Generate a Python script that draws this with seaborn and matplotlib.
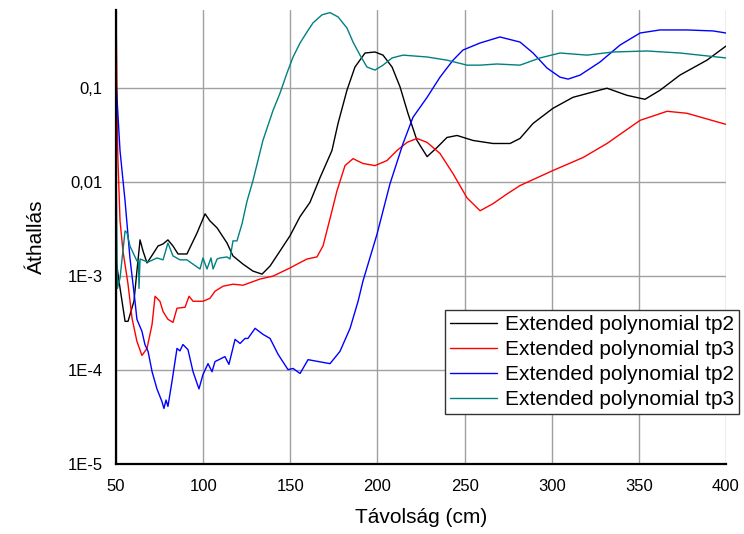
import matplotlib
matplotlib.use("Agg")
import matplotlib.pyplot as plt
import matplotlib.ticker as mticker
import seaborn as sns
import numpy as np

# ---- data ----
black_x = [50, 51.9, 55.2, 56.9, 60.3, 62.0, 63.8, 65.5, 67.8, 71.2, 74.1, 77, 79.8, 82.7, 85.6, 90.7,
           96.5, 101.1, 103.9, 108, 113.7, 117.1, 122.9, 128.6, 133.8, 138.4, 144.1, 149.8, 155.6,
           161.3, 167.1, 173.9, 177.4, 182.5, 187.1, 192.9, 198.6, 203.2, 208.4, 213.0, 217.5,
           222.7, 228.5, 234.2, 239.9, 245.7, 254.8, 266.3, 276.1, 281.8, 289.3, 300.7, 312.2,
           331.7, 343.2, 353.5, 362.1, 373.6, 389.1, 400]
black_y = [1.5e-3, 8.4e-4, 3.3e-4, 3.3e-4, 5.4e-4, 1.13e-3, 2.43e-3, 1.85e-3, 1.38e-3, 1.72e-3, 2.09e-3,
           2.2e-3, 2.43e-3, 2.09e-3, 1.72e-3, 1.72e-3, 2.88e-3, 4.6e-3, 3.87e-3, 3.26e-3, 2.25e-3,
           1.64e-3, 1.34e-3, 1.13e-3, 1.05e-3, 1.28e-3, 1.85e-3, 2.68e-3, 4.3e-3, 6.1e-3, 0.0112,
           0.0217, 0.0422, 0.095, 0.168, 0.237, 0.243, 0.225, 0.168, 0.103, 0.0541, 0.0278, 0.0187,
           0.0234, 0.0299, 0.0314, 0.0278, 0.0258, 0.0258, 0.0292, 0.0422, 0.0611, 0.080, 0.100,
           0.084, 0.0762, 0.095, 0.138, 0.199, 0.281]

red_x = [50, 51.0, 52.3, 54.0, 56.9, 59.2, 62.0, 64.9, 67.8, 70.7, 72.4, 75.2, 77, 79.8, 82.7, 85,
         89.6, 91.9, 94.2, 96.5, 99.9, 103.9, 106.8, 111.4, 117.1, 122.9, 132.6, 140.1, 149.8,
         153.9, 159.6, 165.3, 168.8, 172.8, 176.8, 181.4, 186.0, 191.7, 198.6, 205.5, 211.2, 217.0,
         222.7, 228.5, 235.9, 243.4, 251.4, 258.9, 266.3, 274.4, 281.8, 300.7, 318.0, 331.7,
         350.7, 366.2, 377.6, 400]
red_y = [0.68, 0.02, 3.9e-3, 1.85e-3, 8.2e-4, 3.56e-4, 2.02e-4, 1.43e-4, 1.7e-4, 3.07e-4, 6.1e-4,
         5.4e-4, 4.2e-4, 3.47e-4, 3.22e-4, 4.55e-4, 4.66e-4, 6.1e-4, 5.4e-4, 5.4e-4, 5.4e-4, 5.8e-4,
         6.9e-4, 7.8e-4, 8.2e-4, 8.0e-4, 9.3e-4, 1.0e-3, 1.22e-3, 1.34e-3, 1.52e-3, 1.6e-3, 2.1e-3,
         4.1e-3, 8.1e-3, 0.015, 0.0178, 0.0158, 0.0150, 0.0170, 0.0217, 0.0265, 0.0292, 0.0265,
         0.0202, 0.0123, 6.8e-3, 4.96e-3, 5.9e-3, 7.5e-3, 9.2e-3, 0.0133, 0.0183, 0.0258, 0.0455,
         0.0568, 0.0541, 0.0412]

blue_x = [50, 52.3, 55.2, 58, 60.9, 62, 64.9, 66.6, 68.4, 70.7, 73.5, 76.4, 77.5, 78.7, 79.8, 82.1,
          85, 86.7, 88.4, 91.3, 94.2, 97.6, 99.9, 102.8, 105.1, 106.8, 112.5, 114.8, 118.3, 121.2,
          124, 125.7, 129.8, 134.3, 138.4, 143, 148.7, 151.6, 155.6, 160.2, 172.8, 178.5, 184.3,
          188.9, 191.7, 199.8, 207.2, 214.7, 220.4, 228.5, 235.9, 243.4, 249.1, 258.9, 270.3,
          281.8, 289.3, 297.3, 304.8, 309.4, 316.3, 327.7, 339.2, 350.7, 362.1, 377.6, 392.6, 400]
blue_y = [0.12, 0.0217, 6.3e-3, 1.56e-3, 5.4e-4, 3.47e-4, 2.58e-4, 1.87e-4, 1.58e-4, 9.6e-5, 6.3e-5,
          4.6e-5, 3.9e-5, 4.8e-5, 4.1e-5, 7.5e-5, 1.7e-4, 1.6e-4, 1.87e-4, 1.65e-4, 9.6e-5, 6.3e-5,
          8.95e-5, 1.17e-4, 9.6e-5, 1.23e-4, 1.39e-4, 1.15e-4, 2.12e-4, 1.92e-4, 2.17e-4, 2.17e-4,
          2.78e-4, 2.4e-4, 2.17e-4, 1.47e-4, 1.01e-4, 1.04e-4, 9.2e-5, 1.29e-4, 1.17e-4, 1.58e-4,
          2.78e-4, 5.4e-4, 8.85e-4, 2.81e-3, 9.6e-3, 0.0258, 0.049, 0.080, 0.131, 0.199, 0.255,
          0.303, 0.351, 0.310, 0.237, 0.164, 0.131, 0.125, 0.138, 0.190, 0.288, 0.387, 0.417,
          0.417, 0.407, 0.387]

teal_x = [50, 50.8, 52.3, 55.2, 56.3, 58, 62, 62.9, 63.2, 63.8, 68.4, 73.5, 77, 79.8, 82.7, 86.7,
          90.7, 94.2, 98.2, 99.9, 102.2, 104.5, 105.7, 108, 109.7, 113.7, 115.4, 117.1, 119.4,
          122.3, 125.2, 128.6, 134.3, 140.1, 144.1, 148.1, 151.6, 155.6, 159.6, 163.0, 168.2,
          172.8, 177.4, 182.5, 186.0, 190.0, 194.0, 198.6, 203.2, 208.4, 214.7, 228.5, 239.9,
          251.4, 258.9, 268.6, 281.8, 293.3, 304.8, 320.3, 335.2, 354.7, 373.6, 400]
teal_y = [0.017, 7.4e-4, 9.5e-4, 3.03e-3, 2.9e-3, 2.09e-3, 1.45e-3, 1.45e-3, 7.4e-4, 1.52e-3,
          1.41e-3, 1.56e-3, 1.49e-3, 2.25e-3, 1.64e-3, 1.49e-3, 1.49e-3, 1.34e-3, 1.19e-3, 1.56e-3,
          1.19e-3, 1.56e-3, 1.19e-3, 1.52e-3, 1.56e-3, 1.6e-3, 1.52e-3, 2.37e-3, 2.37e-3, 3.6e-3,
          6.3e-3, 0.0104, 0.0278, 0.058, 0.0885, 0.145, 0.215, 0.303, 0.397, 0.495, 0.604, 0.638,
          0.574, 0.438, 0.310, 0.225, 0.168, 0.156, 0.176, 0.210, 0.225, 0.215, 0.199, 0.176,
          0.176, 0.181, 0.176, 0.210, 0.237, 0.225, 0.243, 0.249, 0.237, 0.210]

series_labels = ["Extended polynomial tp2", "Extended polynomial tp3",
                 "Extended polynomial tp2", "Extended polynomial tp3"]
series_colors = ["#000000", "#ff0000", "#0000ff", "#008080"]

y_ticks = [1e-5, 1e-4, 1e-3, 1e-2, 1e-1]
y_tick_labels = ["1E-5", "1E-4", "1E-3", "0,01", "0,1"]
x_ticks = [50, 100, 150, 200, 250, 300, 350, 400]

# ---- plot ----
sns.set_style("white")
plt.rcParams['font.family'] = ['Liberation Sans', 'DejaVu Sans']
plt.rcParams['text.color'] = 'black'
plt.rcParams['axes.labelcolor'] = 'black'
plt.rcParams['xtick.color'] = 'black'
plt.rcParams['ytick.color'] = 'black'

fig = plt.figure(figsize=(7.44, 5.34), dpi=100)
ax = fig.add_axes([116 / 744, 1 - 464 / 534, 610 / 744, 454 / 534])

for xs, ys, lab, col in zip([black_x, red_x, blue_x, teal_x],
                            [black_y, red_y, blue_y, teal_y],
                            series_labels, series_colors):
    sns.lineplot(x=xs, y=ys, color=col, label=lab, ax=ax, linewidth=1.0,
                 estimator=None, sort=False)

ax.set_yscale("log")
ax.set_xlim(50, 400)
ax.set_ylim(1e-5, 0.68)

ax.yaxis.set_major_locator(mticker.FixedLocator(y_ticks))
ax.yaxis.set_major_formatter(mticker.FixedFormatter(y_tick_labels))
ax.yaxis.set_minor_locator(mticker.LogLocator(base=10, subs=np.arange(2, 10)))
ax.yaxis.set_minor_formatter(mticker.NullFormatter())
ax.xaxis.set_major_locator(mticker.FixedLocator(x_ticks))
ax.xaxis.set_minor_locator(mticker.MultipleLocator(25))

ax.grid(True, which="major", color="#a0a0a0", linewidth=1.0)
ax.set_axisbelow(True)

for s in ["top", "right"]:
    ax.spines[s].set_visible(False)
for s in ["left", "bottom"]:
    ax.spines[s].set_color("black")
    ax.spines[s].set_linewidth(1.6)

ax.tick_params(axis="both", which="major", direction="out", length=6, width=1.3,
               labelsize=12, labelcolor="black", color="black", pad=3.5)
ax.tick_params(axis="both", which="minor", direction="out", length=3, width=1.0, color="black")
ax.tick_params(axis="x", which="major", pad=5)

ax.set_xlabel("Távolság (cm)", fontsize=15, labelpad=10, color="black")
ax.set_ylabel("Áthallás", fontsize=15, labelpad=16, color="black")

leg = ax.legend(loc="upper left", bbox_to_anchor=(445 / 744, 1 - 310 / 534),
                bbox_transform=fig.transFigure, fontsize=15, frameon=True,
                fancybox=False, shadow=False, borderaxespad=0, borderpad=0.26,
                labelspacing=0.28, handlelength=2.25, handletextpad=0.35)
leg.get_frame().set_edgecolor("#333333")
leg.get_frame().set_linewidth(1.0)
leg.get_frame().set_alpha(1.0)
for line in leg.get_lines():
    line.set_linewidth(1.0)

fig.savefig("out.png", dpi=100)
